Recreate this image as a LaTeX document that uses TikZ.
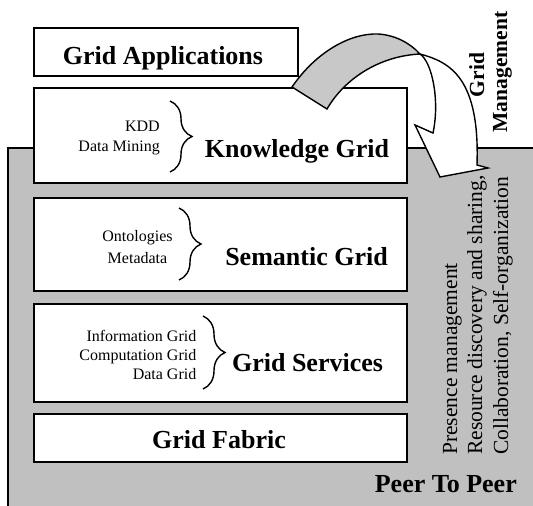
\documentclass[tikz,border=0pt]{standalone}
\usepackage{fontspec}
\setmainfont{Liberation Serif}
\usetikzlibrary{decorations.pathreplacing}

\definecolor{bggray}{RGB}{192,192,192}
\definecolor{arrowgray}{RGB}{200,200,200}

\tikzset{
  layer/.style={draw, line width=1.8pt, fill=white, inner sep=0pt, anchor=north west},
  head/.style={font=\fontsize{26}{30}\selectfont\bfseries, inner sep=0pt},
  small/.style={font=\fontsize{16}{19}\selectfont, inner sep=0pt},
  side/.style={font=\fontsize{21.5}{26}\selectfont, inner sep=0pt, rotate=90, anchor=base west},
  mgmt/.style={font=\fontsize{21.5}{25}\selectfont\bfseries, inner sep=0pt, rotate=90, anchor=base},
  curly/.style={decorate, decoration={brace, amplitude=22pt}, line width=1.4pt},
  bandline/.style={line width=1.4pt, line join=miter},
}

\begin{document}
\begin{tikzpicture}[x=1pt, y=-1pt]
\useasboundingbox (0,0) rectangle (533,506);
\clip (0,0) rectangle (533,506);

% peer-to-peer background
\fill[bggray] (8,148) rectangle (545,520);
\draw[line width=1.8pt] (8,520) -- (8,148) -- (545,148);

% layers
\node[layer, minimum width=264pt, minimum height=48pt] (apps) at (33,27) {};
\node[layer, minimum width=373pt, minimum height=95pt] (know) at (33,87) {};
\node[layer, minimum width=373pt, minimum height=93pt] (sem)  at (33,197) {};
\node[layer, minimum width=373pt, minimum height=98pt] (serv) at (33,303) {};
\node[layer, minimum width=373pt, minimum height=48pt] (fab)  at (33,413) {};

% layer titles
\node[head, anchor=base] (appst) at (163,64) {Grid Applications};
\node[head, anchor=base] (knowt) at (297,157) {Knowledge Grid};
\node[head, anchor=base] (semt)  at (306.5,265) {Semantic Grid};
\node[head, anchor=base] (servt) at (307.5,371) {Grid Services};
\node[head, anchor=base] (fabt)  at (219,448) {Grid Fabric};
\node[head, anchor=base east] (p2pt) at (517,492) {Peer To Peer};

% knowledge grid details
\node[small, anchor=base east] (kdd)  at (160,131) {KDD};
\node[small, anchor=base east] (dm)   at (160,151) {Data Mining};
\coordinate (kb1) at (170,101);
\coordinate (kb2) at (170,172);
\draw[curly] (kb1) -- (kb2);

% semantic grid details
\node[small, anchor=base] (onto) at (137.5,241) {Ontologies};
\node[small, anchor=base] (meta) at (137.5,263) {Metadata};
\coordinate (sb1) at (179,208);
\coordinate (sb2) at (179,280);
\draw[curly] (sb1) -- (sb2);

% grid services details
\node[small, anchor=base east] (info) at (196.5,341) {Information Grid};
\node[small, anchor=base east] (comp) at (196.5,360) {Computation Grid};
\node[small, anchor=base east] (data) at (196.5,379) {Data Grid};
\coordinate (gb1) at (203,316);
\coordinate (gb2) at (203,389);
\draw[curly] (gb1) -- (gb2);

% curved management arrow: a ribbon that turns over at (twist)
\coordinate (tailout) at (292,87);
\coordinate (tailin)  at (327,109);
\coordinate (topout)  at (378,34);
\coordinate (twist)   at (420,54);
\coordinate (shout)   at (477,165);
\coordinate (barbr)   at (488,168);
\coordinate (tip)     at (440,177);
\coordinate (barbl)   at (415,125);
\coordinate (shin)    at (433,133);

% back side of the ribbon
\filldraw[fill=arrowgray, bandline]
  (tailout) .. controls (316,52) and (350,33) .. (topout)
  .. controls (395,35) and (410,43) .. (twist)
  .. controls (380,56) and (345,78) .. (tailin) -- cycle;

% front side of the ribbon with the head
\filldraw[fill=white, bandline]
  (twist) .. controls (450,62) and (480,78) .. (shout)
  -- (barbr) -- (tip) -- (barbl) -- (shin)
  .. controls (440,100) and (432,62) .. (twist) -- cycle;

% management label
\node[mgmt] (mg1) at (484,75) {Grid};
\node[mgmt] (mg2) at (507,72) {Management};

% peer-to-peer services
\node[side] (pm) at (457,455) {Presence management};
\node[side] (rd) at (482,455) {Resource discovery and sharing,};
\node[side] (cs) at (508,455) {Collaboration, Self-organization};
\end{tikzpicture}
\end{document}
